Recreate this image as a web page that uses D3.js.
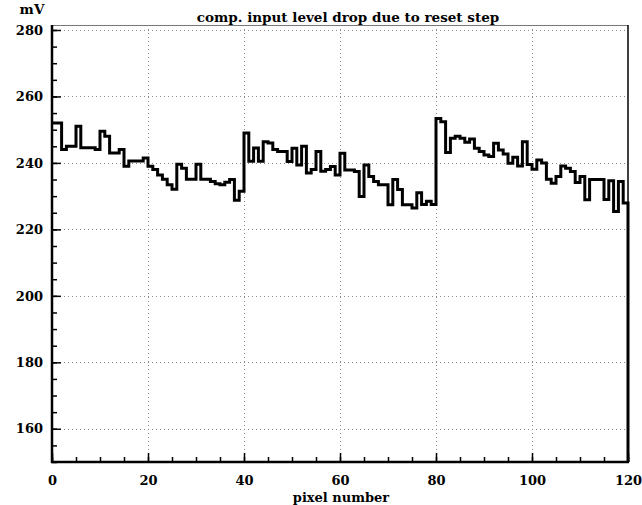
<!DOCTYPE html>
<html>
<head>
<meta charset="utf-8">
<script src="https://cdn.jsdelivr.net/npm/d3@7"></script>
<style>
  html, body { margin: 0; padding: 0; background: #fff; }
  svg { display: block; }
  text { font-family: "DejaVu Serif", "Liberation Serif", serif; font-weight: bold; fill: #000; }
</style>
</head>
<body>
<svg id="chart" width="642" height="505"></svg>
<script>
// ---- data ----
const title = "comp. input level drop due to reset step";
const xLabel = "pixel number";
const yLabel = "mV";
const xTickLabels = [0, 20, 40, 60, 80, 100, 120];
const yTickLabels = [160, 180, 200, 220, 240, 260, 280];
// level (mV) of each pixel bin 0..119
const levels = [
  252, 252, 244, 245, 245, 251, 244.6, 244.6, 244.6, 244,
  249.5, 248, 243, 243, 244, 239, 240.6, 240.6, 240.6, 241.5,
  239, 238, 236.4, 235.1, 233.4, 232.1, 239.6, 238.4, 235.1, 235.1,
  239.6, 235.1, 235.1, 234.4, 233.7, 233.4, 234.2, 235, 228.8, 231.5,
  249, 240.5, 244.5, 240.5, 246.4, 246, 244, 243.4, 243.4, 240.4,
  244.4, 239.4, 245, 237, 238, 243.4, 237.5, 238, 238.9, 236.4,
  242.9, 237.9, 237.9, 237.4, 229.9, 239.4, 235.9, 234.4, 233.4, 233.4,
  227.4, 235, 232, 227.4, 227.4, 226.4, 231, 227.5, 228.5, 227.5,
  253.4, 252.4, 243.1, 247.4, 248, 247.4, 246.2, 247.2, 244.4, 243.4,
  242.4, 241.9, 245.9, 243.9, 242.7, 239.9, 241.7, 239.1, 246.4, 239.5,
  238.1, 240.9, 240, 235.1, 233.9, 235.9, 239.1, 238.4, 237.4, 234.1,
  235.9, 228.9, 235, 235, 235, 229, 234.6, 225.4, 234.4, 227.9
];
const xDomain = [0, 120];
const yDomain = [150, 281.5];

// ---- layout ----
const svg = d3.select("#chart");
const L = 52, R = 628, T = 25, B = 462;
const x = d3.scaleLinear().domain(xDomain).range([L, R]);
const y = d3.scaleLinear().domain(yDomain).range([B, T]);

// grid (dotted)
const grid = svg.append("g").attr("stroke", "#8a8a8a").attr("stroke-width", 1)
  .attr("stroke-dasharray", "1,3").attr("fill", "none");
grid.selectAll("line.h").data(yTickLabels).join("line")
  .attr("x1", L).attr("x2", R)
  .attr("y1", d => Math.round(y(d)) + 0.5).attr("y2", d => Math.round(y(d)) + 0.5);
grid.selectAll("line.v").data(xTickLabels.filter(d => d > xDomain[0] && d < xDomain[1])).join("line")
  .attr("y1", T).attr("y2", B)
  .attr("x1", d => Math.round(x(d)) + 0.5).attr("x2", d => Math.round(x(d)) + 0.5);

// frame top/right
svg.append("line").attr("x1", L).attr("x2", R).attr("y1", T + 0.5).attr("y2", T + 0.5)
  .attr("stroke", "#777").attr("stroke-width", 1);
svg.append("line").attr("x1", R).attr("x2", R).attr("y1", T).attr("y2", B)
  .attr("stroke", "#000").attr("stroke-width", 1.5);

// step histogram line
const pts = levels.map((v, i) => [i, v]);
pts.push([levels.length, levels[levels.length - 1]]);
pts.push([levels.length, yDomain[0]]);
const line = d3.line().x(d => x(d[0])).y(d => y(d[1])).curve(d3.curveStepAfter);
svg.append("path").datum(pts).attr("d", line)
  .attr("fill", "none").attr("stroke", "#000").attr("stroke-width", 3)
  .attr("stroke-linejoin", "miter");

// y axis: minor ticks every 5, major labelled
const yMinor = d3.range(yDomain[0], yDomain[1], 5);
const yAxisMinor = d3.axisLeft(y).tickValues(yMinor).tickSize(-5).tickFormat("");
const yAxisMajor = d3.axisLeft(y).tickValues(yTickLabels).tickSize(-9).tickPadding(9);
const gy1 = svg.append("g").attr("transform", `translate(${L},0)`).call(yAxisMinor);
const gy2 = svg.append("g").attr("transform", `translate(${L},0)`).call(yAxisMajor);
[gy1, gy2].forEach(g => {
  g.select(".domain").remove();
  g.selectAll("line").attr("stroke", "#000").attr("stroke-width", 1.5);
});
gy2.selectAll("text").attr("font-size", 13).style("font-family", "DejaVu Serif").style("font-weight", "bold");

// x axis
const xMinor = d3.range(xDomain[0], xDomain[1] + 1, 5);
const xAxisMinor = d3.axisBottom(x).tickValues(xMinor).tickSize(-5).tickFormat("");
const xAxisMajor = d3.axisBottom(x).tickValues(xTickLabels).tickSize(-9).tickPadding(14);
const gx1 = svg.append("g").attr("transform", `translate(0,${B})`).call(xAxisMinor);
const gx2 = svg.append("g").attr("transform", `translate(0,${B})`).call(xAxisMajor);
[gx1, gx2].forEach(g => {
  g.select(".domain").remove();
  g.selectAll("line").attr("stroke", "#000").attr("stroke-width", 1.5);
});
gx2.selectAll("text").attr("font-size", 13).style("font-family", "DejaVu Serif").style("font-weight", "bold");

// thick left & bottom axis lines
svg.append("line").attr("x1", L).attr("x2", L).attr("y1", T).attr("y2", B + 1)
  .attr("stroke", "#000").attr("stroke-width", 2.5);
svg.append("line").attr("x1", L - 1).attr("x2", R + 1).attr("y1", B).attr("y2", B)
  .attr("stroke", "#000").attr("stroke-width", 2.5);

// titles
svg.append("text").attr("x", 348).attr("y", 22).attr("text-anchor", "middle")
  .attr("font-size", 13.5).text(title);
svg.append("text").attr("x", 32).attr("y", 14).attr("text-anchor", "middle")
  .attr("font-size", 13.5).text(yLabel);
svg.append("text").attr("x", 341).attr("y", 502).attr("text-anchor", "middle")
  .attr("font-size", 13).text(xLabel);
</script>
</body>
</html>
